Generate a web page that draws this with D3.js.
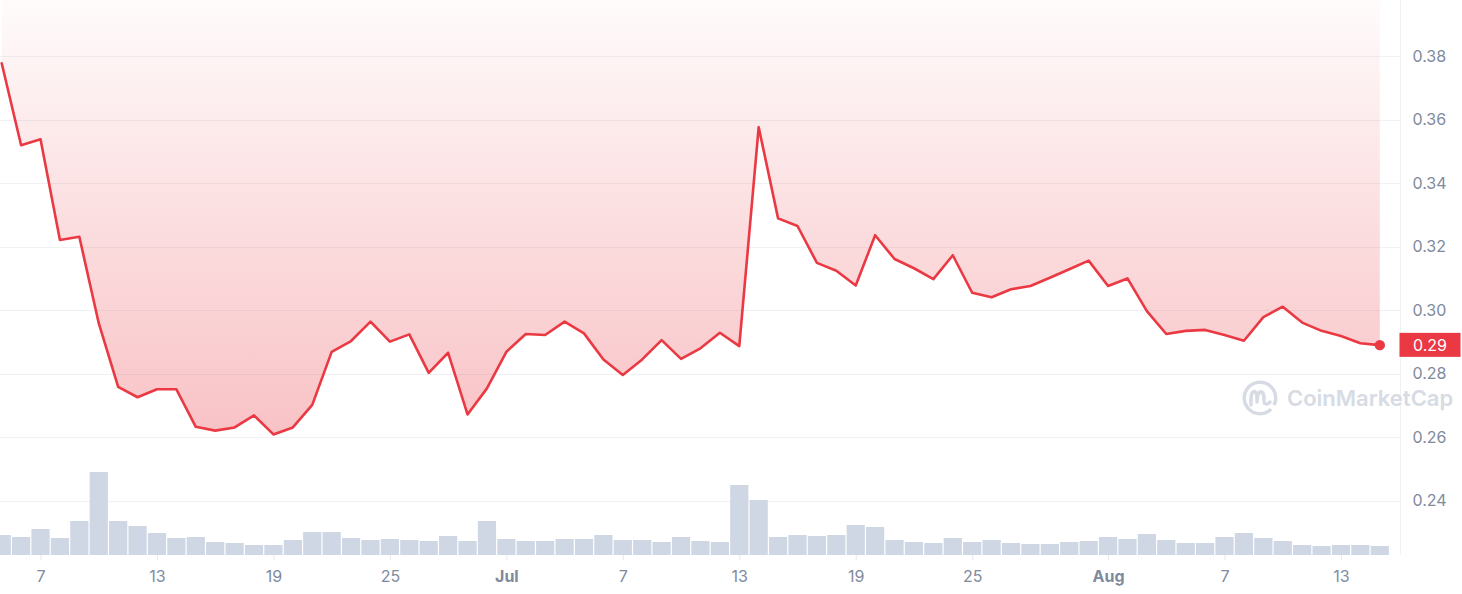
<!DOCTYPE html>
<html>
<head>
<meta charset="utf-8">
<script src="https://cdn.jsdelivr.net/npm/d3@7/dist/d3.min.js"></script>
<style>
  html, body { margin: 0; padding: 0; background: #ffffff; }
  svg { display: block; font-family: Inter, "Open Sans", "DejaVu Sans", sans-serif; }
</style>
</head>
<body>
<svg id="chart" width="1462" height="594"></svg>
<script>
// ---- data ----
const dates = [
  "2023-06-05","2023-06-06","2023-06-07","2023-06-08","2023-06-09","2023-06-10","2023-06-11","2023-06-12",
  "2023-06-13","2023-06-14","2023-06-15","2023-06-16","2023-06-17","2023-06-18","2023-06-19","2023-06-20",
  "2023-06-21","2023-06-22","2023-06-23","2023-06-24","2023-06-25","2023-06-26","2023-06-27","2023-06-28",
  "2023-06-29","2023-06-30","2023-07-01","2023-07-02","2023-07-03","2023-07-04","2023-07-05","2023-07-06",
  "2023-07-07","2023-07-08","2023-07-09","2023-07-10","2023-07-11","2023-07-12","2023-07-13","2023-07-14",
  "2023-07-15","2023-07-16","2023-07-17","2023-07-18","2023-07-19","2023-07-20","2023-07-21","2023-07-22",
  "2023-07-23","2023-07-24","2023-07-25","2023-07-26","2023-07-27","2023-07-28","2023-07-29","2023-07-30",
  "2023-07-31","2023-08-01","2023-08-02","2023-08-03","2023-08-04","2023-08-05","2023-08-06","2023-08-07",
  "2023-08-08","2023-08-09","2023-08-10","2023-08-11","2023-08-12","2023-08-13","2023-08-14","2023-08-15"
];
const prices = [
  0.3777,0.3519,0.3538,0.3221,0.3231,0.2959,0.2759,0.2726,
  0.2751,0.2751,0.2633,0.2621,0.2631,0.2669,0.2609,0.2631,
  0.2702,0.2869,0.2903,0.2964,0.2901,0.2924,0.2803,0.2866,
  0.2672,0.2754,0.2869,0.2925,0.2922,0.2964,0.2927,0.2845,
  0.2796,0.2845,0.2906,0.2847,0.2880,0.2929,0.2887,0.3576,
  0.3289,0.3265,0.3149,0.3124,0.3078,0.3236,0.3161,0.3132,
  0.3098,0.3173,0.3055,0.3041,0.3066,0.3076,0.3102,0.3129,
  0.3156,0.3076,0.3100,0.2997,0.2925,0.2935,0.2938,0.2922,
  0.2904,0.2978,0.3011,0.2961,0.2935,0.2919,0.2896,0.2890
];
const volumes = [
  20,18,26,17,34,83,34,29,
  22,17,18,13,12,10,10,15,
  23,23,17,15,16,15,14,19,
  14,34,16,14,14,16,16,20,
  15,15,13,18,14,13,70,55,
  18,20,19,20,30,28,15,13,
  12,17,13,15,12,11,11,13,
  14,18,16,21,15,12,12,18,
  22,17,14,10,9,10,10,9
];
const xTickDates = ["2023-06-07","2023-06-13","2023-06-19","2023-06-25","2023-07-01","2023-07-07","2023-07-13","2023-07-19","2023-07-25","2023-08-01","2023-08-07","2023-08-13"];
const xTickLabels = ["7","13","19","25","Jul","7","13","19","25","Aug","7","13"];
const yTicks = [0.24,0.26,0.28,0.30,0.32,0.34,0.36,0.38];
const lastLabel = "0.29";

// ---- setup ----
const parse = d3.utcParse("%Y-%m-%d");
const data = dates.map((d, i) => ({ date: parse(d), price: prices[i], vol: volumes[i] }));

const svg = d3.select("#chart");
const plotRight = 1400, baseY = 555;
const RED = "#ea3943", GRAY = "#808a9d", GRID = "#eff2f5";

const x = d3.scaleUtc()
  .domain([parse(dates[0]), parse(dates[dates.length - 1])])
  .range([1.7, 1379.8]);
const y = d3.scaleLinear().domain([0.24, 0.38]).range([500.85, 56.0]);
const yVol = d3.scaleLinear().domain([0, 100]).range([baseY, baseY - 100]);
const step = x(parse(dates[1])) - x(parse(dates[0]));
const barW = step - 1.2;

// gradient
const defs = svg.append("defs");
const grad = defs.append("linearGradient")
  .attr("id", "areaGrad").attr("gradientUnits", "userSpaceOnUse")
  .attr("x1", 0).attr("y1", 0).attr("x2", 0).attr("y2", 440);
grad.append("stop").attr("offset", 0).attr("stop-color", RED).attr("stop-opacity", 0.02);
grad.append("stop").attr("offset", 1).attr("stop-color", RED).attr("stop-opacity", 0.31);

// gridlines
svg.append("g").selectAll("line").data(yTicks).join("line")
  .attr("x1", 0).attr("x2", plotRight)
  .attr("y1", d => Math.round(y(d)) + 0.5).attr("y2", d => Math.round(y(d)) + 0.5)
  .attr("stroke", GRID).attr("stroke-width", 1);

// right border
svg.append("line").attr("x1", plotRight + 0.5).attr("x2", plotRight + 0.5)
  .attr("y1", 0).attr("y2", baseY).attr("stroke", GRID).attr("stroke-width", 1);

// watermark
const wm = svg.append("g").attr("transform", "translate(1260,398)");
wm.append("path")
  .attr("d", d3.arc()({ innerRadius: 14, outerRadius: 17.5, startAngle: 0.75 * Math.PI, endAngle: 2.65 * Math.PI }))
  .attr("fill", "#d6dbe4");
wm.append("path")
  .attr("d", "M -9 7 L -9 2 C -9 -9 -3 -9 -3 0 L -3 4 C -3 -9 4 -9 4 0 L 4 3 C 4 7 8 7 10 4")
  .attr("fill", "none").attr("stroke", "#d6dbe4").attr("stroke-width", 3.4)
  .attr("stroke-linecap", "round").attr("stroke-linejoin", "round");
svg.append("text").attr("x", 1287).attr("y", 406)
  .attr("font-size", 22).attr("font-weight", 600).attr("fill", "#d6dbe4")
  .text("CoinMarketCap");

// volume bars
svg.append("g").selectAll("rect").data(data).join("rect")
  .attr("x", d => x(d.date) - barW / 2)
  .attr("y", d => yVol(d.vol))
  .attr("width", barW)
  .attr("height", d => baseY - yVol(d.vol))
  .attr("fill", "#cfd6e4");

// area above line
const area = d3.area().x(d => x(d.date)).y0(0).y1(d => y(d.price));
svg.append("path").datum(data).attr("d", area).attr("fill", "url(#areaGrad)");

// line
const line = d3.line().x(d => x(d.date)).y(d => y(d.price));
svg.append("path").datum(data).attr("d", line)
  .attr("fill", "none").attr("stroke", RED).attr("stroke-width", 2.6)
  .attr("stroke-linejoin", "round").attr("stroke-linecap", "round");

// end dot
const last = data[data.length - 1];
svg.append("circle").attr("cx", x(last.date)).attr("cy", y(last.price)).attr("r", 5.2).attr("fill", RED);

// x axis
const xAxis = d3.axisBottom(x)
  .tickValues(xTickDates.map(parse))
  .tickFormat((d, i) => xTickLabels[i])
  .tickSize(5).tickPadding(11);
const gx = svg.append("g").attr("transform", `translate(0,${baseY})`).call(xAxis);
gx.select(".domain").remove();
gx.selectAll(".tick line").attr("stroke", "#e6e9ee");
gx.selectAll(".tick text")
  .attr("fill", GRAY).attr("font-size", 16).attr("font-family", "Inter, sans-serif")
  .attr("font-weight", (d, i) => (xTickLabels[i] === "Jul" || xTickLabels[i] === "Aug") ? 700 : 400);

// y axis
const yAxis = d3.axisRight(y).tickValues(yTicks).tickFormat(d3.format(".2f")).tickSize(0).tickPadding(12.5);
const gy = svg.append("g").attr("transform", `translate(${plotRight},0)`).call(yAxis);
gy.select(".domain").remove();
gy.selectAll(".tick text").attr("fill", GRAY).attr("font-size", 16).attr("font-family", "Inter, sans-serif");

// last price label
const ly = y(last.price);
svg.append("rect").attr("x", 1399.5).attr("y", ly - 12.3).attr("width", 61).attr("height", 24).attr("fill", RED);
svg.append("text").attr("x", 1430).attr("y", ly).attr("dy", "0.35em")
  .attr("text-anchor", "middle").attr("fill", "#ffffff").attr("font-size", 16)
  .attr("font-family", "Inter, sans-serif").text(lastLabel);
</script>
</body>
</html>
